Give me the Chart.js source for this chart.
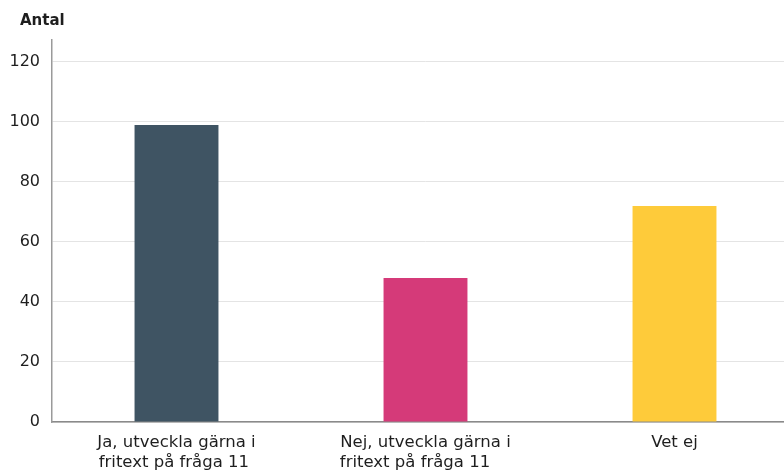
<!DOCTYPE html>
<html>
<head>
<meta charset="utf-8">
<script src="https://cdn.jsdelivr.net/npm/chart.js@4.4.0/dist/chart.umd.min.js"></script>
<style>
  html, body { margin: 0; padding: 0; background: #ffffff; overflow: hidden; }
  #wrap { width: 800px; height: 472px; }
</style>
</head>
<body>
<div id="wrap"><canvas id="c" width="800" height="472"></canvas></div>
<script>
const categories = [
  ["Ja, utveckla gärna i", "fritext på fråga 11"],
  ["Nej, utveckla gärna i", "fritext på fråga 11"],
  ["Vet ej"]
];
const values = [99, 48, 72];
const barColors = ["#3f5463", "#d53a79", "#fecb3a"];
const yTicks = [0, 20, 40, 60, 80, 100, 120];
const yTitle = "Antal";

const FONT = "'DejaVu Sans', 'Noto Sans', sans-serif";
const LABEL_SIZE = 16.5;

// Pad shorter lines with trailing spaces so multi-line labels read left-aligned
const measureCtx = document.createElement('canvas').getContext('2d');
function leftAlignLines(lines) {
  if (!Array.isArray(lines) || lines.length < 2) return lines;
  measureCtx.font = LABEL_SIZE + "px " + FONT;
  const widths = lines.map(l => measureCtx.measureText(l).width);
  const maxW = Math.max(...widths);
  return lines.map((l) => {
    let s = l;
    while (measureCtx.measureText(s + ' ').width <= maxW + 1) s += ' ';
    return s;
  });
}

const antalPlugin = {
  id: 'antal',
  afterDraw(chart) {
    const ctx = chart.ctx;
    ctx.save();
    ctx.font = "bold 15px " + FONT;
    ctx.fillStyle = "#1e1e1e";
    ctx.textAlign = "left";
    ctx.textBaseline = "alphabetic";
    ctx.fillText(yTitle, 20, 25);
    ctx.restore();
  }
};

new Chart(document.getElementById('c'), {
  type: 'bar',
  data: {
    labels: categories,
    datasets: [{
      data: values,
      backgroundColor: barColors,
      borderWidth: 0,
      categoryPercentage: 1,
      barPercentage: 0.337
    }]
  },
  options: {
    responsive: false,
    animation: false,
    devicePixelRatio: 1,
    layout: { padding: { top: 40, right: 1, left: 0, bottom: 0 } },
    plugins: { legend: { display: false }, tooltip: { enabled: false }, title: { display: false } },
    scales: {
      x: {
        grid: { display: false, drawTicks: false },
        border: { display: true, color: '#8a8a8a', width: 1.5 },
        ticks: {
          color: '#1e1e1e',
          font: { family: FONT, size: LABEL_SIZE, lineHeight: 1.24 },
          padding: 10,
          maxRotation: 0,
          autoSkip: false,
          callback(value, index) { return leftAlignLines(categories[index]); }
        },
        afterFit(s) { s.height = 50; }
      },
      y: {
        min: 0,
        max: 127.3,
        afterBuildTicks(s) { s.ticks = yTicks.map(v => ({ value: v })); },
        grid: { color: '#e4e4e4', lineWidth: 1, drawTicks: false },
        border: { display: true, color: '#9a9a9a', width: 1.5 },
        ticks: {
          color: '#1e1e1e',
          font: { family: FONT, size: 16 },
          padding: 12
        },
        afterFit(s) { s.width = 52; }
      }
    }
  },
  plugins: [antalPlugin]
});
</script>
</body>
</html>
